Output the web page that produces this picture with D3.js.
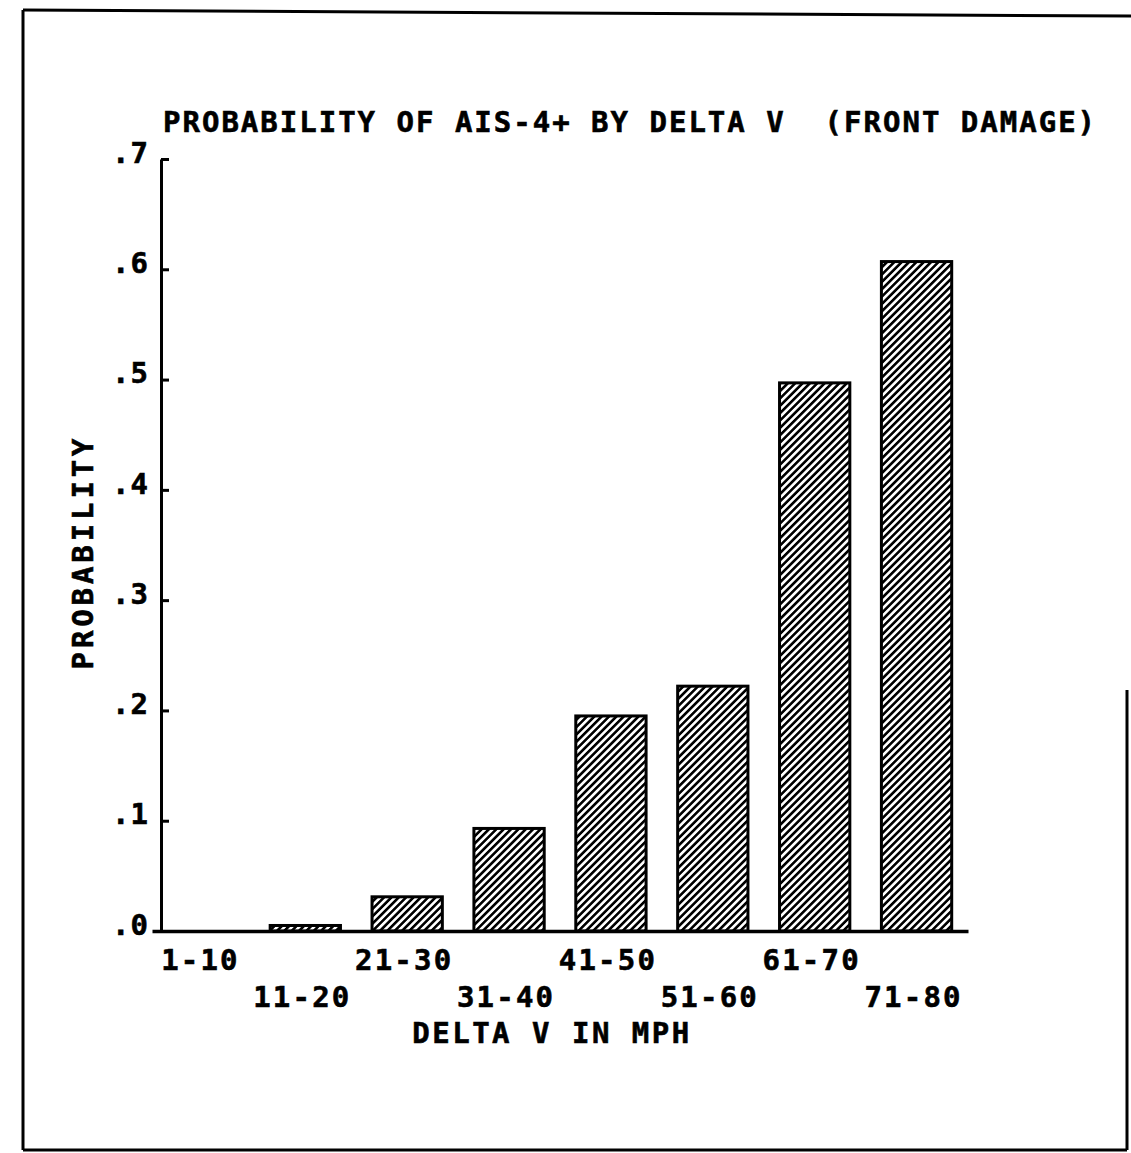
<!DOCTYPE html>
<html>
<head>
<meta charset="utf-8">
<script src="https://cdn.jsdelivr.net/npm/d3@7"></script>
<style>
  html, body { margin: 0; padding: 0; background: #fff; }
  svg { display: block; }
  .mono { font-family: "DejaVu Sans Mono", "Liberation Mono", monospace; font-weight: bold; fill: #000; stroke: #000; stroke-width: 0.6px; }
</style>
</head>
<body>
<svg id="chart" width="1131" height="1153"></svg>
<script>
// ---- data ----
const categories = ["1-10", "11-20", "21-30", "31-40", "41-50", "51-60", "61-70", "71-80"];
const probabilities = [0.0, 0.005, 0.031, 0.093, 0.195, 0.222, 0.497, 0.607];
const yTicks = [0, 0.1, 0.2, 0.3, 0.4, 0.5, 0.6, 0.7];
const titleText = "PROBABILITY OF AIS-4+ BY DELTA V  (FRONT DAMAGE)";
const xTitleText = "DELTA V IN MPH";
const yTitleText = "PROBABILITY";

// ---- layout ----
const svg = d3.select("#chart");
const W = 1131, H = 1153;
const FS = 29;
svg.append("rect").attr("width", W).attr("height", H).attr("fill", "#fff");

// page frame
const frame = svg.append("g").attr("stroke", "#000").attr("stroke-width", 3).attr("fill", "none");
frame.append("line").attr("x1", 23).attr("y1", 10).attr("x2", 1131).attr("y2", 16);
frame.append("line").attr("x1", 23).attr("y1", 10).attr("x2", 23).attr("y2", 1150);
frame.append("line").attr("x1", 23).attr("y1", 1150).attr("x2", 1127).attr("y2", 1150);
frame.append("line").attr("x1", 1127).attr("y1", 690).attr("x2", 1127).attr("y2", 1150);

// hatch pattern
const defs = svg.append("defs");
const pat = defs.append("pattern")
  .attr("id", "hatch")
  .attr("patternUnits", "userSpaceOnUse")
  .attr("width", 5.2).attr("height", 5.2)
  .attr("patternTransform", "rotate(45)");
pat.append("rect").attr("width", 5.2).attr("height", 5.2).attr("fill", "#fff");
pat.append("line").attr("x1", 1.3).attr("y1", 0).attr("x2", 1.3).attr("y2", 5.2)
  .attr("stroke", "#000").attr("stroke-width", 2.6);

const y = d3.scaleLinear().domain([0, 0.7]).range([931, 159]);
const x = d3.scaleBand().domain(categories).range([152, 968])
  .paddingInner(0.31).paddingOuter(0.16);

// bars
svg.append("g").selectAll("rect")
  .data(categories.map((c, i) => ({ c, v: probabilities[i] })))
  .join("rect")
  .attr("x", d => x(d.c))
  .attr("y", d => y(d.v))
  .attr("width", x.bandwidth())
  .attr("height", d => y(0) - y(d.v))
  .attr("fill", "url(#hatch)")
  .attr("stroke", d => d.v > 0 ? "#000" : "none")
  .attr("stroke-width", 3);

// y axis
const yAxis = d3.axisLeft(y)
  .tickValues(yTicks)
  .tickSizeInner(-8)
  .tickSizeOuter(0)
  .tickPadding(12)
  .tickFormat(d => d3.format(".1f")(d).replace(/^0/, ""));
const gy = svg.append("g").attr("transform", "translate(161,0)").call(yAxis);
gy.select(".domain").attr("stroke", "#000").attr("stroke-width", 3);
gy.selectAll(".tick line").attr("stroke", "#000").attr("stroke-width", 3);
gy.selectAll(".tick text")
  .attr("class", "mono")
  .attr("font-size", FS)
  .attr("letter-spacing", 1)
  .attr("dy", "0.35em")
  .attr("y", -7)
  .style("font-family", "'DejaVu Sans Mono', monospace")
  .style("font-weight", "bold");

// x axis
const xAxis = d3.axisBottom(x).tickSize(0).tickSizeOuter(0).tickPadding(0);
const gx = svg.append("g").attr("transform", `translate(0,${y(0)})`).call(xAxis);
gx.select(".domain").attr("stroke", "#000").attr("stroke-width", 3.5);
gx.selectAll(".tick text")
  .attr("class", "mono")
  .attr("font-size", FS)
  .attr("letter-spacing", 2.2)
  .attr("dy", null)
  .attr("x", -3)
  .attr("y", (d, i) => i % 2 === 0 ? 39 : 76)
  .style("font-family", "'DejaVu Sans Mono', monospace")
  .style("font-weight", "bold");

// titles
svg.append("text").attr("class", "mono")
  .attr("x", 163).attr("y", 132)
  .attr("font-size", FS).attr("letter-spacing", 2.0)
  .attr("xml:space", "preserve")
  .style("white-space", "pre")
  .text(titleText);

svg.append("text").attr("class", "mono")
  .attr("x", (152 + 968) / 2 - 8).attr("y", 1043)
  .attr("text-anchor", "middle")
  .attr("font-size", FS).attr("letter-spacing", 2.5)
  .text(xTitleText);

svg.append("text").attr("class", "mono")
  .attr("transform", "translate(93,552) rotate(-90)")
  .attr("text-anchor", "middle")
  .attr("font-size", FS).attr("letter-spacing", 3.9)
  .text(yTitleText);
</script>
</body>
</html>
